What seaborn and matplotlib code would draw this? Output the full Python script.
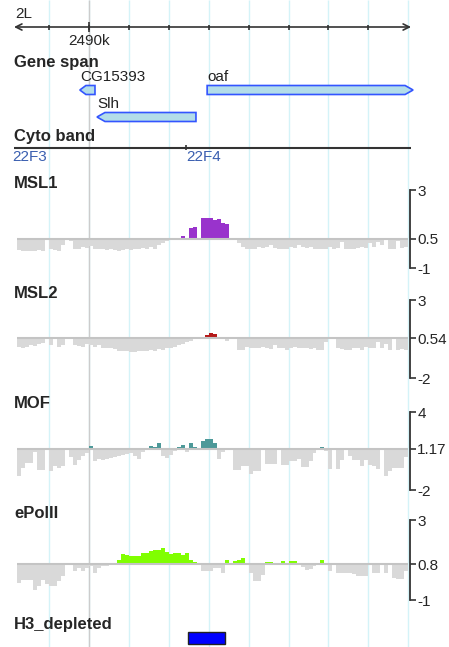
import numpy as np
import pandas as pd
import matplotlib
matplotlib.use("Agg")
import matplotlib.pyplot as plt
from matplotlib.patches import Polygon, Rectangle
import seaborn as sns

sns.set_style("white")
plt.rcParams["font.family"] = ["Liberation Sans", "DejaVu Sans"]

W, H = 449, 647

# genome window (kb)
view_start, view_end = 2488.12, 2498.07
x_left, x_right = 2487.77, 2499.02
ruler_ticks = list(range(2489, 2498))
ruler_major = 2490
grid_lines = list(range(2489, 2499))

gene_names = ["CG15393", "Slh", "oaf"]
gene_starts = [2489.77, 2490.20, 2492.96]
gene_ends = [2490.15, 2492.68, 2498.12]
gene_strands = ["-", "-", "+"]
gene_rows = [0, 1, 0]

cyto_names = ["22F3", "22F4"]
cyto_starts = [2488.07, 2492.43]

h3_starts = [2492.48]
h3_ends = [2493.41]

bin_start = 2488.2
bin_size = 0.1

msl1 = [-0.1, -0.15, -0.15, -0.12, -0.15, -0.1, -0.12, 0.5, -0.05, -0.1,
        -0.12, 0.2, 0.5, 0.4, 0.0, -0.05, 0.1, 0.05, 0.15, 0.0,
        -0.05, 0.0, -0.1, -0.05, -0.1, -0.12, -0.1, -0.05, -0.1, 0.0,
        -0.05, 0.05, 0.0, 0.1, -0.05, 0.2, 0.3, 0.4, 0.45, 0.5,
        0.5, 0.62, 0.5, 1.05, 1.08, 0.5, 1.58, 1.58, 1.55, 1.45,
        1.5, 1.33, 1.25, 0.5, 0.5, 0.3, 0.1, 0.0, -0.05, 0.0,
        0.1, 0.05, 0.1, 0.2, 0.05, 0.0, -0.05, -0.05, 0.1, 0.05,
        0.2, 0.1, 0.05, 0.1, 0.0, -0.05, -0.05, 0.0, 0.1, 0.0,
        0.05, 0.35, 0.0, -0.05, 0.0, 0.05, 0.1, 0.05, 0.3, 0.1,
        0.35, 0.2, 0.5, 0.0, -0.05, 0.4, 0.05, 0.1]

msl2 = [0.0, -0.05, 0.0, 0.1, 0.05, 0.2, 0.25, 0.54, 0.1, 0.54,
        0.0, 0.1, 0.54, 0.54, 0.1, 0.05, 0.0, 0.15, 0.1, 0.0,
        0.1, -0.05, -0.1, -0.1, -0.15, -0.25, -0.3, -0.3, -0.35, -0.35,
        -0.3, -0.25, -0.3, -0.2, -0.25, -0.15, -0.2, -0.05, -0.1, 0.0,
        0.1, 0.2, 0.3, 0.35, 0.54, 0.54, 0.65, 0.75, 0.9, 0.8,
        0.54, 0.54, 0.4, 0.54, 0.54, -0.2, -0.2, 0.0, -0.05, -0.1,
        -0.1, 0.0, -0.1, -0.15, 0.1, -0.1, -0.1, -0.2, -0.1, 0.0,
        -0.05, -0.05, -0.1, -0.15, -0.1, -0.2, -0.2, 0.3, 0.54, 0.54,
        -0.1, -0.15, -0.2, -0.2, -0.1, -0.1, -0.2, 0.0, -0.1, -0.05,
        0.3, -0.1, 0.2, -0.2, 0.54, -0.2, -0.15, -0.2]

mof = [-0.9, -0.3, 0.1, 0.1, 0.95, -0.45, -0.45, 1.17, -0.5, -0.15,
       -0.3, -0.15, 1.17, 0.55, -0.05, 0.3, 0.65, 0.85, 1.4, 0.25,
       0.4, 0.3, 0.4, 0.5, 0.55, 0.65, 0.7, 0.8, 0.85, 0.65,
       0.4, 0.95, 1.25, 1.4, 1.3, 1.63, 0.65, 0.5, 0.7, 1.0,
       1.3, 1.45, 0.95, 1.63, 1.3, 1.25, 1.8, 1.95, 1.95, 1.63,
       0.4, 0.95, 1.17, 1.17, -0.45, -0.45, -0.15, -0.15, -0.8, -0.5,
       -0.5, 1.17, 0.0, 0.0, 0.0, 1.17, -0.05, -0.05, 0.25, 0.25,
       0.4, -0.2, -0.2, 0.25, 0.85, 1.17, 1.3, 1.0, -0.4, 1.17,
       -0.4, 0.3, 1.25, 0.65, 0.3, 0.3, -0.15, 0.3, -0.05, -0.15,
       -0.4, 1.17, -0.9, -0.5, -0.3, -0.3, -0.3, 0.55]

epol = [-0.15, 0.0, 0.0, 0.0, -0.5, -0.3, 0.0, -0.2, -0.3, -0.3,
        -0.05, 0.2, 0.8, 0.8, 0.45, 0.6, 0.45, 0.6, 0.7, 0.35,
        0.6, 0.7, 0.7, 0.8, 0.8, 1.0, 1.3, 1.25, 1.2, 1.2,
        1.2, 1.35, 1.35, 1.45, 1.5, 1.5, 1.6, 1.4, 1.3, 1.35,
        1.35, 1.25, 1.35, 1.0, 0.9, 0.8, 0.45, 0.45, 0.45, 0.6,
        0.6, 0.35, 1.0, 0.8, 0.95, 1.0, 1.1, 0.8, 0.35, -0.05,
        -0.05, 0.25, 0.9, 0.9, 0.85, 0.8, 0.95, 0.85, 0.95, 0.95,
        0.85, 0.65, 0.5, 0.55, 0.7, 0.8, 1.0, 0.8, 0.45, 0.8,
        0.35, 0.35, 0.35, 0.35, 0.3, 0.2, 0.2, 0.2, 0.8, 0.35,
        0.35, 0.8, 0.35, 0.8, 0.1, 0.05, 0.05, 0.45]

track_names = ["MSL1", "MSL2", "MOF", "ePolII"]
track_values = [msl1, msl2, mof, epol]
track_base = [0.5, 0.54, 1.17, 0.8]
track_min = [-1, -2, -2, -1]
track_max = [3, 3, 4, 3]
track_colors = ["#9933cc", "#b51a1a", "#4d9999", "#80ff00"]
track_px = [(190, 268), (300, 378), (412, 490), (520, 600)]
label_px = [183, 293, 403, 513]

gray = "#d9d9d9"
dark = "#333333"

fig = plt.figure(figsize=(W / 100, H / 100), dpi=100)

# background: grid lines, ruler, genes, cyto band, H3 track
bg = fig.add_axes([0, 0, 1, 1])
bg.set_xlim(x_left, x_right)
bg.set_ylim(H, 0)
bg.axis("off")
bg.vlines(grid_lines, 0, H, color="#d4f3f8", lw=1, zorder=0)
bg.vlines([ruler_major], 0, H, color="#cccccc", lw=1, zorder=0)

bg.annotate("", xy=(view_start, 27), xytext=(view_end, 27),
            arrowprops=dict(arrowstyle="<->", color=dark, lw=1.2,
                            shrinkA=0, shrinkB=0, mutation_scale=11))
bg.vlines(ruler_ticks, 24.5, 29.5, color=dark, lw=1.2)
bg.vlines([ruler_major], 22, 32, color=dark, lw=1.2)
bg.text(view_start + 0.02, 14, "2L", fontsize=11, va="center", ha="left")
bg.text(ruler_major, 41, "%dk" % ruler_major, fontsize=11, va="center", ha="center")

bg.text(view_start, 62, "Gene span", fontsize=12, weight="bold", va="center")
for name, s, e, st, r in zip(gene_names, gene_starts, gene_ends, gene_strands, gene_rows):
    y = 90 + 27 * r
    h = 4.5
    tip = min(0.2, 0.4 * (e - s))
    if st == "+":
        pts = [(s, y - h), (e - tip, y - h), (e, y), (e - tip, y + h), (s, y + h)]
    else:
        pts = [(s, y), (s + tip, y - h), (e, y - h), (e, y + h), (s + tip, y + h)]
    bg.add_patch(Polygon(pts, closed=True, fc="#b3dde9", ec="#3355ff", lw=1.2, zorder=3))
    bg.text(s, y - 13, name, fontsize=11, va="center", ha="left", color="#222222")

bg.text(view_start, 137, "Cyto band", fontsize=12, weight="bold", va="center")
bg.hlines(148, view_start, view_end, color=dark, lw=1.5)
bg.vlines(cyto_starts[1:], 145, 150, color=dark, lw=1.2)
for name, s in zip(cyto_names, cyto_starts):
    bg.text(max(s, x_left + 0.28), 157, name, fontsize=11, va="center",
            ha="left", color="#3a5fb0")

bg.text(view_start, 624, "H3_depleted", fontsize=12, weight="bold", va="center")
for s, e in zip(h3_starts, h3_ends):
    bg.add_patch(Rectangle((s, 632), e - s, 12, fc="#0000ff", ec="#222222", lw=1, zorder=3))

# signal tracks
centers = bin_start + bin_size * (np.arange(len(msl1)) + 0.5)
for name, vals, b, lo, hi, col, (top, bot), ly in zip(
        track_names, track_values, track_base, track_min, track_max,
        track_colors, track_px, label_px):
    bg.text(view_start, ly, name, fontsize=12, weight="bold", va="center")
    ax = fig.add_axes([0, 1 - bot / H, 1, (bot - top) / H])
    ax.patch.set_alpha(0)
    v = np.array(vals)
    df = pd.DataFrame({"pos": centers, "h": v - b,
                       "sign": np.where(v > b, "up", "down")})
    sns.barplot(data=df, x="pos", y="h", hue="sign",
                palette={"up": col, "down": gray}, native_scale=True,
                width=1.0, dodge=False, errorbar=None, legend=False,
                saturation=1, linewidth=0, ax=ax)
    ax.hlines(0, bin_start, bin_start + bin_size * len(vals), color="#c4c4c4", lw=1.5, zorder=1)
    ax.set_xlim(x_left, x_right)
    ax.set_ylim(lo - b, hi - b)
    ax.set_xlabel("")
    ax.set_ylabel("")
    for sp in ["top", "left", "bottom"]:
        ax.spines[sp].set_visible(False)
    ax.spines["right"].set_position(("data", 2498.05))
    ax.spines["right"].set_color(dark)
    ax.spines["right"].set_linewidth(1.3)
    ax.set_xticks([])
    ax.yaxis.tick_right()
    ax.set_yticks([lo - b, 0, hi - b])
    ax.set_yticklabels([str(lo), str(b), str(hi)])
    ax.tick_params(axis="y", direction="out", length=4, width=1.2,
                   color=dark, labelsize=11, pad=1)

fig.savefig("out.png", dpi=100)
